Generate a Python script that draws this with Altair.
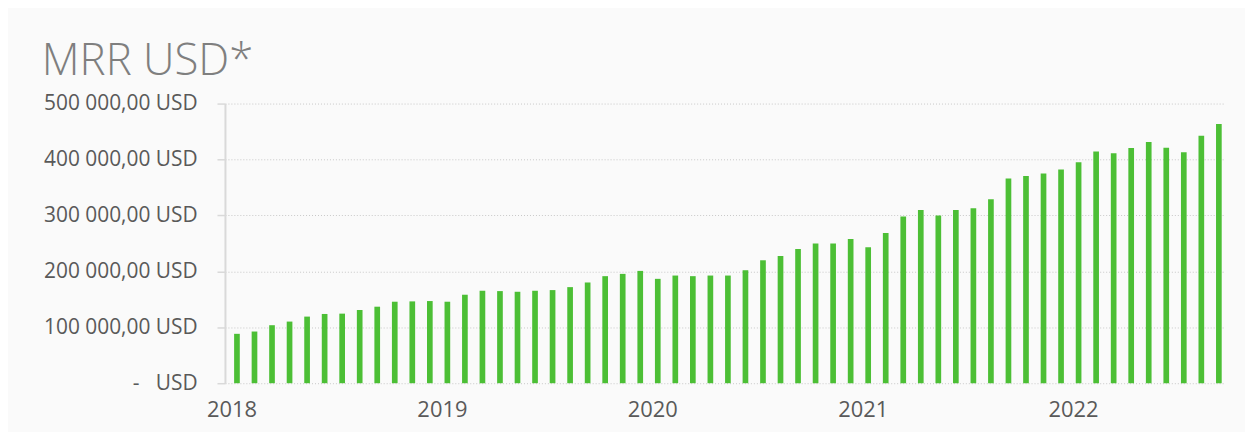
import altair as alt
import pandas as pd

years = [2018, 2019, 2020, 2021, 2022]
month_numbers = ["01", "02", "03", "04", "05", "06", "07", "08", "09", "10", "11", "12"]
months = [f"{y}-{m}" for y in years for m in month_numbers][:57]

mrr = [
    88300, 92400, 103700, 110200, 119100, 123800, 124400, 130900, 136800, 145700, 146300, 146900,
    145700, 158200, 165300, 164700, 163500, 165300, 166500, 171800, 180100, 191400, 195500, 200800,
    186600, 192500, 191400, 192500, 192500, 202000, 219800, 227500, 239900, 250000, 250000, 257700,
    242900, 268400, 298000, 309800, 299800, 309800, 312800, 328800, 366100, 370300, 375000, 382100,
    395100, 414100, 411100, 420600, 431300, 421200, 412900, 442500, 463300,
]
y_ticks = [0, 100000, 200000, 300000, 400000, 500000]

df = pd.DataFrame({"month": months, "mrr": mrr})

FONT = "Open Sans"
LABEL = "#595959"

chart = (
    alt.Chart(df)
    .mark_bar(color="#4cbf35")
    .encode(
        x=alt.X(
            "month:O",
            sort=months,
            title=None,
            scale=alt.Scale(paddingInner=0.676, paddingOuter=0.358, align=0.73),
            axis=alt.Axis(
                labelExpr="slice(datum.value, 5, 7) == '01' ? slice(datum.value, 0, 4) : ''",
                labelAngle=0,
                labelOverlap=False,
                labelFont=FONT,
                labelFontSize=22,
                labelColor=LABEL,
                labelPadding=16,
                labelOffset=-5,
                ticks=False,
                domain=False,
                grid=False,
            ),
        ),
        y=alt.Y(
            "mrr:Q",
            title=None,
            scale=alt.Scale(domain=[0, 500000], nice=False),
            axis=alt.Axis(
                values=y_ticks,
                labelExpr="datum.value == 0 ? '-\u00a0\u00a0\u00a0USD' : (datum.value / 1000) + ' 000,00 USD'",
                labelFont=FONT,
                labelFontSize=21,
                labelColor=LABEL,
                labelPadding=20,
                tickSize=8,
                tickColor="#d9d9d9",
                tickWidth=1.5,
                domainColor="#d9d9d9",
                domainWidth=2,
                grid=True,
                gridColor="#c8c8c8",
                gridDash=[1, 2],
                gridWidth=1,
            ),
        ),
    )
    .properties(
        width=1005,
        height=281,
        autosize=alt.AutoSizeParams(type="none"),
        padding={"left": 218, "top": 95, "right": 20, "bottom": 48},
        background="#fafafa",
        title=alt.TitleParams(
            "MRR USD*",
            anchor="start",
            frame="group",
            dx=-184,
            offset=9,
            font=FONT,
            fontSize=44,
            fontWeight=300,
            color="#7f7f7f",
        ),
    )
    .configure_view(stroke=None)
)

chart.save("out.html", embed_options={"renderer": "svg", "actions": False})
